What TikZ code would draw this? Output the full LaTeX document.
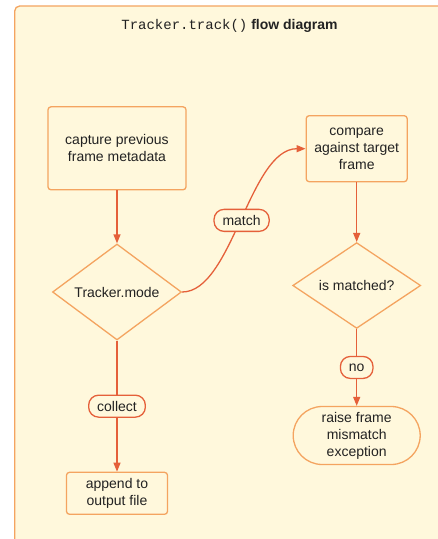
\documentclass[tikz,border=0pt]{standalone}
\usepackage{fontspec}
\setmainfont{Liberation Sans}
\setmonofont{Liberation Mono}
\usetikzlibrary{arrows.meta,shapes.geometric,shapes.misc}
\definecolor{bgc}{HTML}{FFF8DC}
\definecolor{boxc}{HTML}{F4A460}
\definecolor{arrc}{HTML}{E5603A}
\definecolor{txt}{HTML}{222222}
\begin{document}
\begin{tikzpicture}[x=1pt,y=-1pt,
  font=\fontsize{14}{17}\selectfont, text=txt,
  box/.style={draw=boxc, line width=1.3pt, fill=bgc, rounded corners=3pt, align=center, inner sep=0pt},
  dia/.style={diamond, draw=boxc, line width=1.3pt, fill=bgc, inner sep=0pt, align=center},
  stad/.style={rounded rectangle, draw=boxc, line width=1.3pt, fill=bgc, inner sep=0pt, align=center},
  pill/.style={draw=arrc, line width=1.3pt, fill=bgc, rounded corners=10pt, inner xsep=8.5pt, inner ysep=0pt, minimum height=22pt},
  flow/.style={draw=arrc, line width=1.3pt, -{Triangle[length=9pt,width=7pt]}},
  ]
\useasboundingbox (0,0) rectangle (438,539);
\clip (0,0) rectangle (438,539);
\fill[white] (0,0) rectangle (438,539);
\draw[draw=boxc, fill=bgc, line width=1.3pt, rounded corners=5pt] (14.7,6) rectangle (470,570);
\node[anchor=base] (title) at (229.5,29) {{\ttfamily Tracker.track()} \textbf{flow diagram}};

\node[box, minimum width=138pt, minimum height=83pt] (cap) at (117,148.3) {capture previous\\frame metadata};
\node[dia, minimum width=129pt, minimum height=96pt] (mode) at (117,292) {Tracker.mode};
\node[box, minimum width=101pt, minimum height=66pt] (cmp) at (356.7,148.7) {compare\\against target\\frame};
\node[dia, minimum width=128pt, minimum height=83pt] (ism) at (356.7,285.5) {is matched?};
\node[stad, minimum width=127pt, minimum height=58pt] (exc) at (356.7,435.5) {raise frame\\mismatch\\exception};
\node[box, minimum width=101pt, minimum height=42pt] (app) at (117,493.3) {append to\\output file};

\draw[flow] (cap) -- (mode);
\draw[flow] (mode.east) .. controls +(50,0) and +(-56,0) .. (cmp.west) node[pill, pos=0.5] (lmatch) {match};
\draw[flow] (cmp) -- (ism);
\draw[flow] (ism) -- node[pill] (lno) {no} (exc);
\draw[flow] (mode) -- node[pill] (lcol) {collect} (app);
\end{tikzpicture}
\end{document}
